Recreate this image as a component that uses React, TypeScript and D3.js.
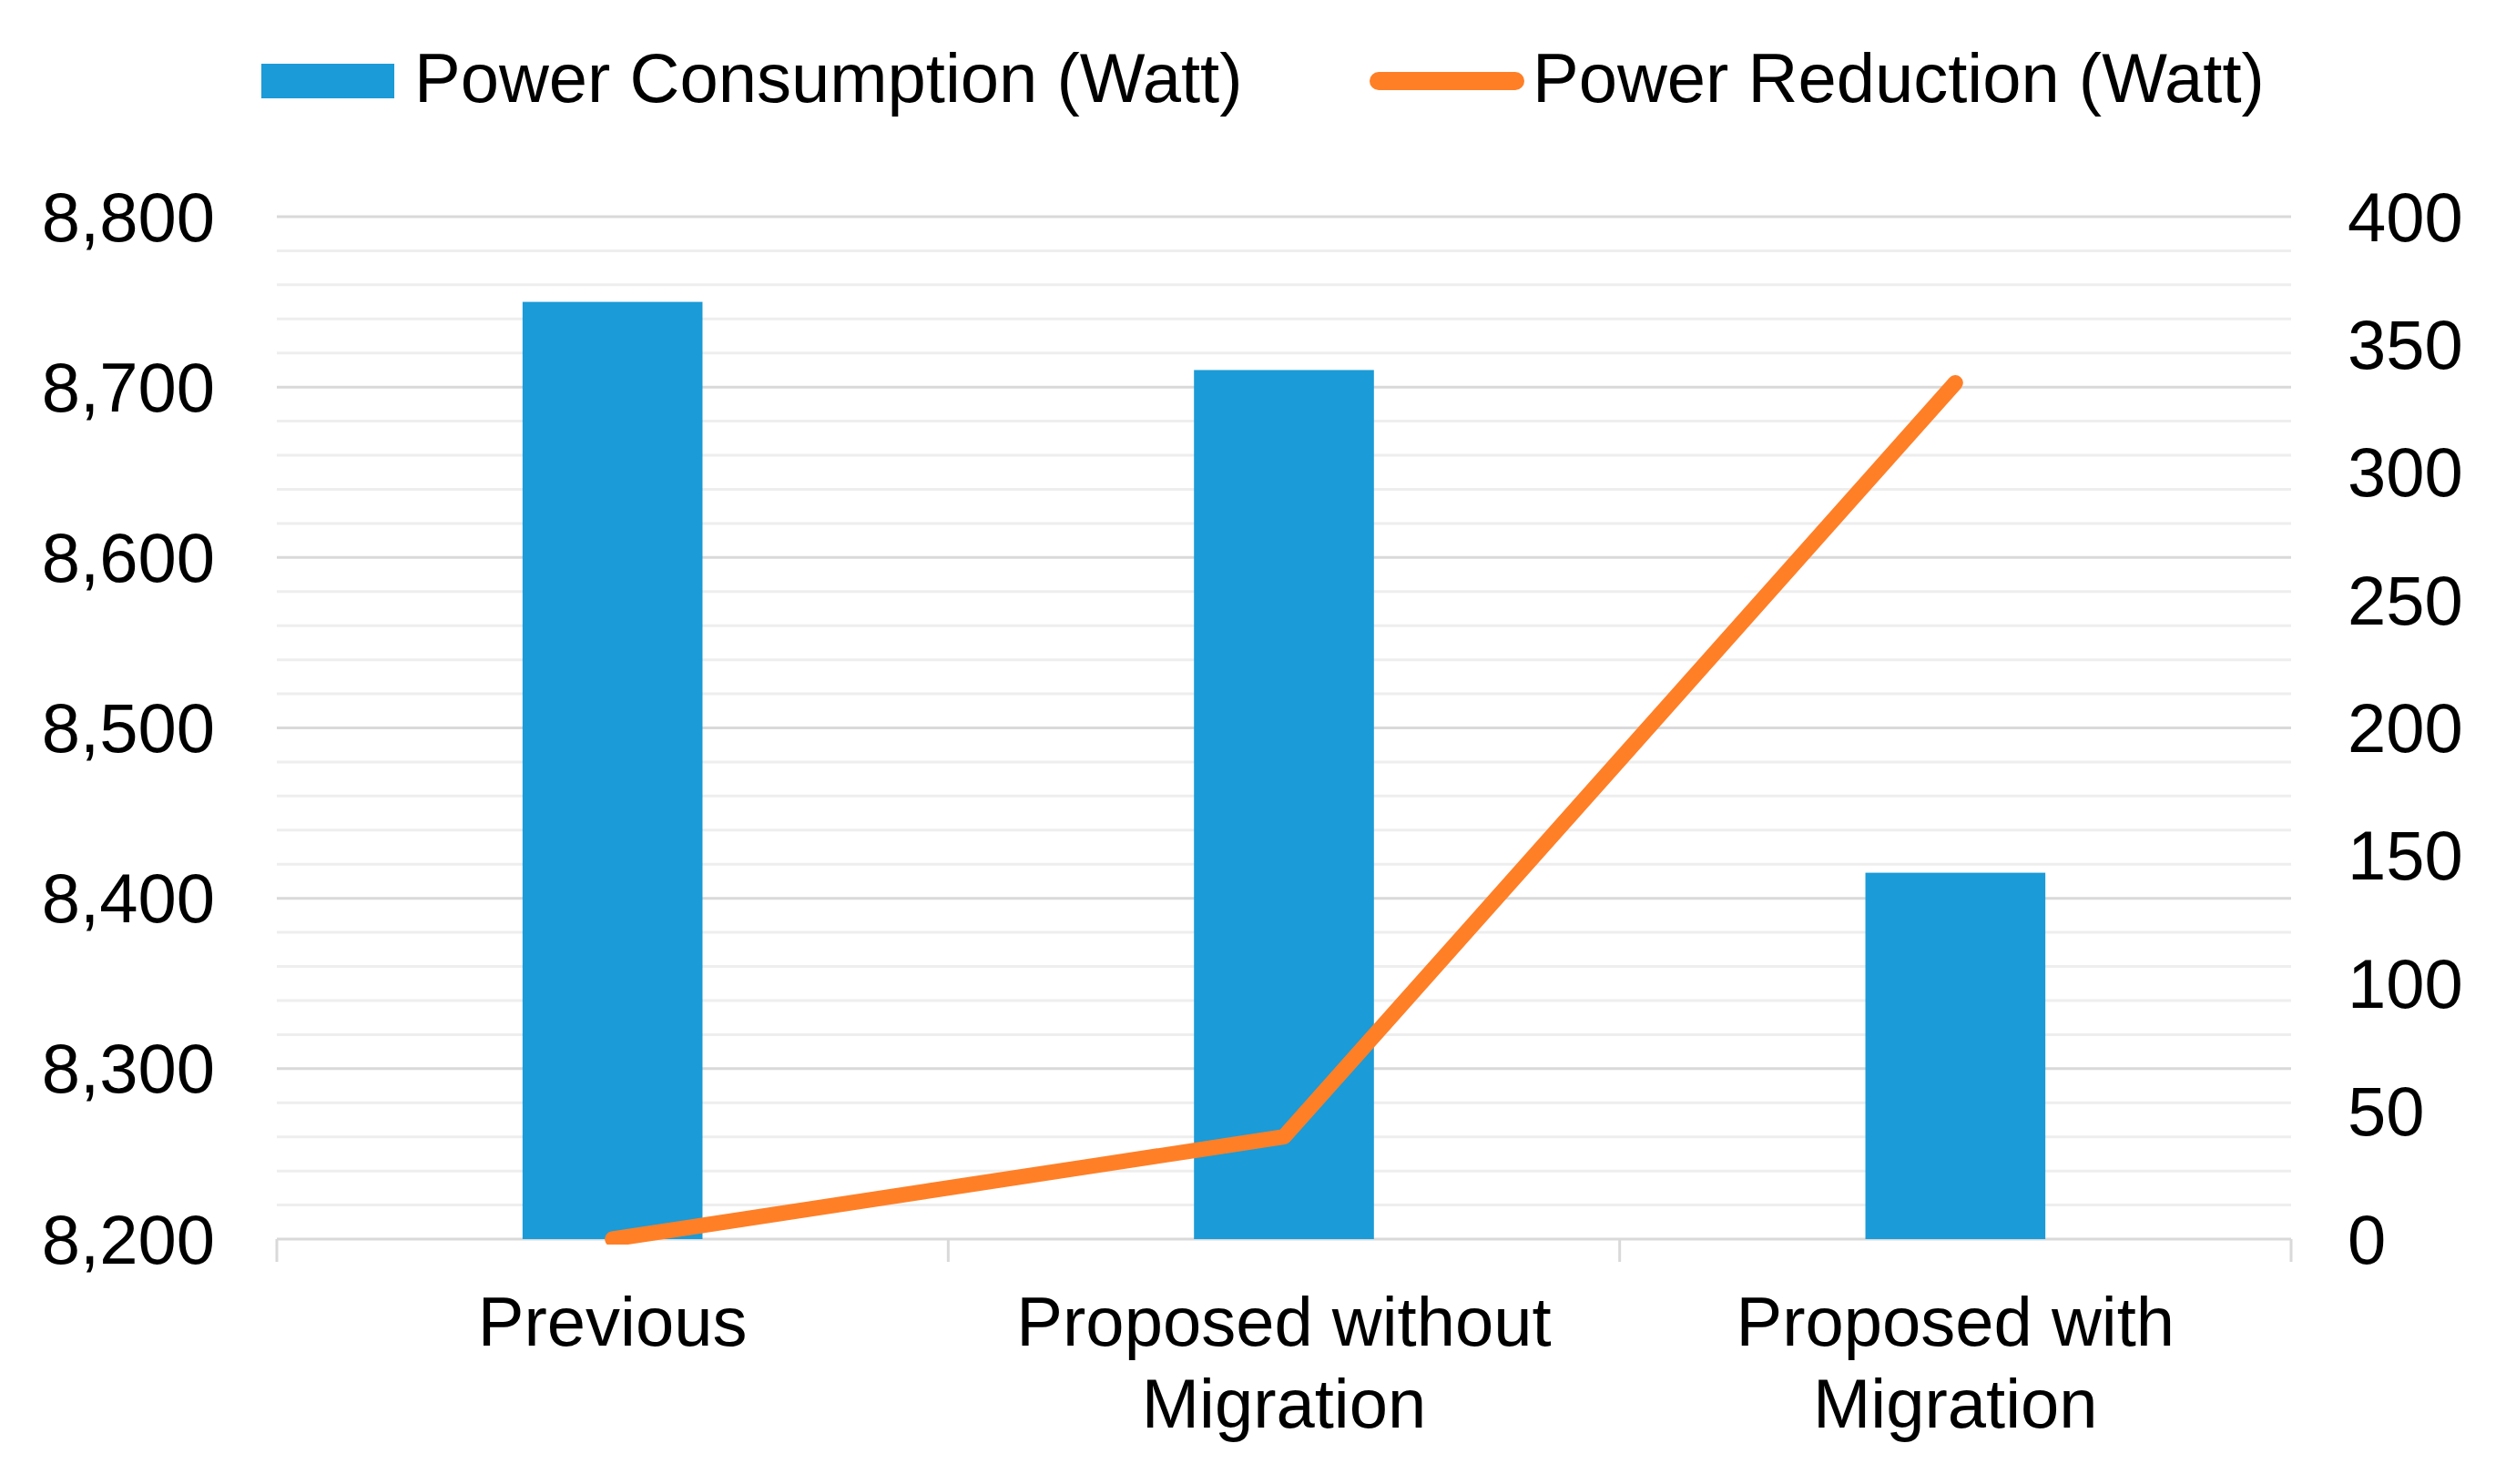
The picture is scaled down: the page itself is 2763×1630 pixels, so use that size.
import { useEffect } from 'react'
import * as d3 from 'd3'

const categories = ['Previous', 'Proposed without Migration', 'Proposed with Migration']
const categoryLabelLines = [['Previous'], ['Proposed without', 'Migration'], ['Proposed with', 'Migration']]
const powerConsumption = [8750, 8710, 8415]
const powerReduction = [0, 40, 335]
const leftTicks = [8200, 8300, 8400, 8500, 8600, 8700, 8800]
const rightTicks = [0, 50, 100, 150, 200, 250, 300, 350, 400]

const BAR_COLOR = '#1b9bd7'
const LINE_COLOR = '#ff7f27'
const FONT = '"Liberation Sans", Arial, sans-serif'

const W = 2763
const H = 1630
const plot = { left: 304, right: 2516, top: 238, bottom: 1361 }

export default function App() {
  useEffect(() => {
    document.body.style.margin = '0'
  }, [])

  const x = d3.scaleBand<string>().domain(categories).range([plot.left, plot.right]).padding(0)
  const barW = x.bandwidth() * 0.268
  const yLeft = d3.scaleLinear().domain([8200, 8800]).range([plot.bottom, plot.top])
  const yRight = d3.scaleLinear().domain([0, 400]).range([plot.bottom, plot.top])

  // minor unit 20 on the primary axis
  const minorTicks = d3.range(8200, 8801, 20)
  const fmt = d3.format(',')

  const cx = (i: number) => (x(categories[i]) ?? 0) + x.bandwidth() / 2
  const line = d3.line<number>()
    .x((_, i) => cx(i))
    .y((d) => yRight(d))

  const boundaries = [...categories.map((c) => x(c) ?? 0), plot.right]

  return (
    <svg width={W} height={H} style={{ display: 'block', background: '#fff' }} fontFamily={FONT}>
      <defs>
        <clipPath id="plot-clip">
          <rect x={plot.left} y={plot.top - 40} width={plot.right - plot.left} height={plot.bottom - plot.top + 46} />
        </clipPath>
      </defs>

      {minorTicks.filter((t) => t % 100 !== 0).map((t) => (
        <line key={'m' + t} x1={plot.left} x2={plot.right} y1={yLeft(t)} y2={yLeft(t)} stroke="#eeeeee" strokeWidth={3} />
      ))}
      {leftTicks.map((t) => (
        <line key={'g' + t} x1={plot.left} x2={plot.right} y1={yLeft(t)} y2={yLeft(t)} stroke="#d9d9d9" strokeWidth={3} />
      ))}

      {boundaries.map((b, i) => (
        <line key={'t' + i} x1={b} x2={b} y1={plot.bottom} y2={plot.bottom + 25} stroke="#d9d9d9" strokeWidth={3} />
      ))}

      {powerConsumption.map((v, i) => (
        <rect
          key={'b' + i}
          x={cx(i) - barW / 2}
          y={yLeft(v)}
          width={barW}
          height={yLeft(8200) - yLeft(v)}
          fill={BAR_COLOR}
        />
      ))}

      <path
        d={line(powerReduction) ?? ''}
        fill="none"
        stroke={LINE_COLOR}
        strokeWidth={17}
        strokeLinecap="round"
        strokeLinejoin="round"
        clipPath="url(#plot-clip)"
      />

      {leftTicks.map((t) => (
        <text key={'l' + t} x={236} y={yLeft(t)} dy="0.35em" textAnchor="end" fontSize={76} fill="#000">
          {fmt(t)}
        </text>
      ))}

      {rightTicks.map((t) => (
        <text key={'r' + t} x={2578} y={yRight(t)} dy="0.35em" textAnchor="start" fontSize={76} fill="#000">
          {t}
        </text>
      ))}

      {categoryLabelLines.map((lines, i) => (
        <text key={'c' + i} x={cx(i)} y={1478} textAnchor="middle" fontSize={76} fill="#000">
          {lines.map((ln, j) => (
            <tspan key={j} x={cx(i)} dy={j === 0 ? 0 : 90}>{ln}</tspan>
          ))}
        </text>
      ))}

      <rect x={287} y={70} width={146} height={38} fill={BAR_COLOR} />
      <text x={455} y={112} fontSize={76} fill="#000">Power Consumption (Watt)</text>
      <line x1={1514} x2={1664} y1={89} y2={89} stroke={LINE_COLOR} strokeWidth={20} strokeLinecap="round" />
      <text x={1683} y={112} fontSize={76} fill="#000">Power Reduction (Watt)</text>
    </svg>
  )
}
